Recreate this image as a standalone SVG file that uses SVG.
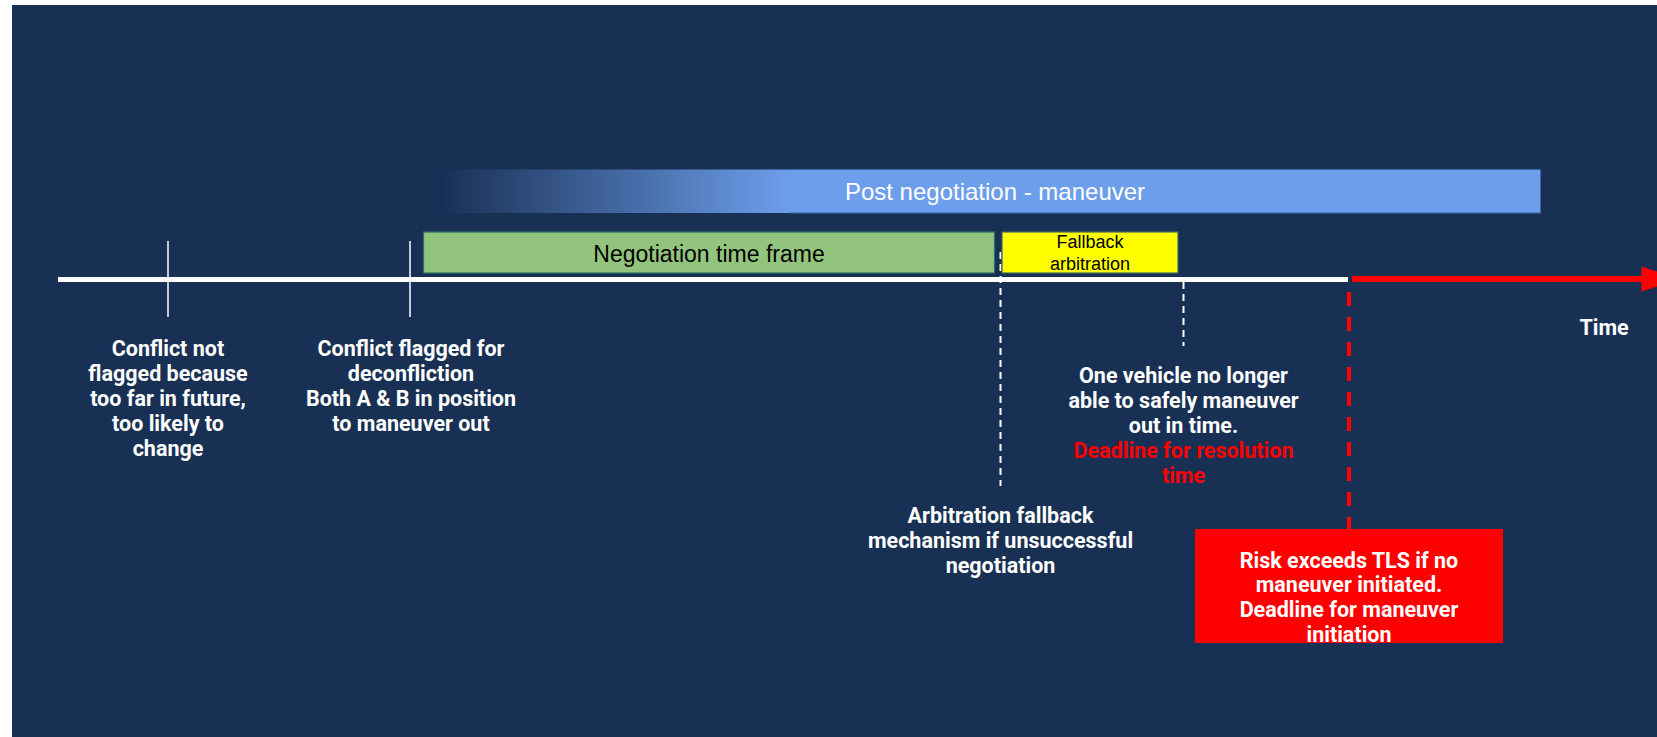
<svg xmlns="http://www.w3.org/2000/svg" width="1657" height="737" viewBox="0 0 1657 737">
<style>
.lbl{font-family:Roboto,"Liberation Sans",sans-serif;font-weight:bold;font-size:21.5px;fill:#ffffff;text-anchor:middle}
.red{fill:#ff0000}
.bar{font-family:"Liberation Sans",Arial,sans-serif;text-anchor:middle}
</style>
<defs>
<linearGradient id="g" gradientUnits="userSpaceOnUse" x1="440" y1="0" x2="790" y2="0">
<stop offset="0" stop-color="#6d9eeb" stop-opacity="0"/>
<stop offset="1" stop-color="#6d9eeb" stop-opacity="1"/>
</linearGradient>
</defs>
<rect x="0" y="0" width="1657" height="737" fill="#ffffff"/>
<rect x="12" y="5" width="1645" height="732" fill="#183054"/>

<g id="post-negotiation">
<rect x="423" y="169.5" width="1117" height="43.5" fill="url(#g)"/>
<path d="M790 169.5 H1540.5 V213 H790" fill="none" stroke="#3f64a0" stroke-width="1"/>
<text class="bar" x="995" y="200" font-size="24" fill="#ffffff">Post negotiation - maneuver</text>
</g>

<g id="negotiation">
<rect x="423.5" y="232" width="571" height="41" fill="#93c47d" stroke="#2f6f6a" stroke-width="1.2"/>
<text class="bar" x="709" y="262" font-size="23" fill="#000000">Negotiation time frame</text>
</g>

<g id="connectors">
<line x1="1000.5" y1="252" x2="1000.5" y2="486" stroke="#ffffff" stroke-width="2" stroke-dasharray="7 5"/>
<line x1="58" y1="279.5" x2="1348" y2="279.5" stroke="#ffffff" stroke-width="5"/>
<line x1="1352" y1="279" x2="1645" y2="279" stroke="#ff0000" stroke-width="6"/>
<polygon points="1641.5,266.5 1680,279 1641.5,291.5" fill="#ff0000"/>
<line x1="168" y1="241" x2="168" y2="317" stroke="#ffffff" stroke-width="1.5"/>
<line x1="410" y1="241" x2="410" y2="317" stroke="#ffffff" stroke-width="1.5"/>
<line x1="1183.5" y1="282" x2="1183.5" y2="346" stroke="#ffffff" stroke-width="2" stroke-dasharray="7 5"/>
<line x1="1349" y1="292" x2="1349" y2="529" stroke="#ff0000" stroke-width="4" stroke-dasharray="14 11"/>
</g>

<g id="fallback">
<rect x="1002" y="232" width="176" height="41" fill="#ffff00" stroke="#3f6b5a" stroke-width="1.2"/>
<text class="bar" x="1090" y="247.5" font-size="18" fill="#000000">Fallback</text>
<text class="bar" x="1090" y="270" font-size="18" fill="#000000">arbitration</text>
</g>

<g id="label-not-flagged">
<text class="lbl" x="168" y="356">Conflict not</text>
<text class="lbl" x="168" y="381">flagged because</text>
<text class="lbl" x="168" y="406">too far in future,</text>
<text class="lbl" x="168" y="431">too likely to</text>
<text class="lbl" x="168" y="456">change</text>
</g>

<g id="label-flagged">
<text class="lbl" x="411" y="356">Conflict flagged for</text>
<text class="lbl" x="411" y="381">deconfliction</text>
<text class="lbl" x="411" y="406">Both A &amp; B in position</text>
<text class="lbl" x="411" y="431">to maneuver out</text>
</g>

<g id="label-no-longer">
<text class="lbl" x="1183.5" y="383">One vehicle no longer</text>
<text class="lbl" x="1183.5" y="408">able to safely maneuver</text>
<text class="lbl" x="1183.5" y="433">out in time.</text>
<text class="lbl red" x="1183.5" y="458">Deadline for resolution</text>
<text class="lbl red" x="1183.5" y="483">time</text>
</g>

<g id="label-arbitration">
<text class="lbl" x="1000.5" y="523">Arbitration fallback</text>
<text class="lbl" x="1000.5" y="548">mechanism if unsuccessful</text>
<text class="lbl" x="1000.5" y="573">negotiation</text>
</g>

<g id="risk">
<rect x="1195" y="529" width="308" height="114" fill="#ff0000"/>
<text class="lbl" x="1349" y="567.5">Risk exceeds TLS if no</text>
<text class="lbl" x="1349" y="592">maneuver initiated.</text>
<text class="lbl" x="1349" y="616.5">Deadline for maneuver</text>
<text class="lbl" x="1349" y="641.5">initiation</text>
</g>

<g id="time-label">
<text class="lbl" x="1604" y="335">Time</text>
</g>
</svg>
